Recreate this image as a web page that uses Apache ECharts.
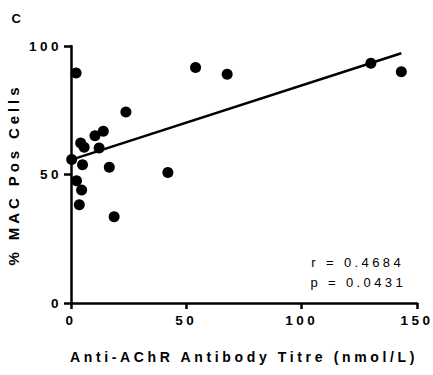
<!DOCTYPE html>
<html>
<head>
<meta charset="utf-8">
<script src="https://cdn.jsdelivr.net/npm/echarts@6/dist/echarts.min.js"></script>
<style>
  html, body { margin: 0; padding: 0; background: #fff; }
  #chart { width: 433px; height: 375px; }
  #chart text { letter-spacing: 0.26em; }
</style>
</head>
<body>
<div id="chart"></div>
<script>
// Data
var titreX = [2.2, 54, 67.7, 130, 143.2, 23.8, 14, 10.4, 4.2, 5.7, 12.2, 0.3, 5, 16.6, 42, 2.4, 4.6, 3.6, 18.7];
var macPosY = [89.5, 91.6, 89, 93.3, 90, 74.3, 66.8, 65.1, 62.3, 60.6, 60.3, 55.8, 53.8, 52.8, 50.8, 47.6, 44, 38.2, 33.6];
// Regression line end points
var fitX = [0.3, 143.2];
var fitY = [55.8, 97.2];
var xTicks = [0, 50, 100, 150];
var yTicks = [0, 50, 100];
var statsText = ['r = 0.4684', 'p = 0.0431'];
var panelLabel = 'C';
var xTitle = 'Anti-AChR Antibody Titre (nmol/L)';
var yTitle = '% MAC Pos Cells';

var points = titreX.map(function (x, i) { return [x, macPosY[i]]; });
var fitLine = fitX.map(function (x, i) { return [x, fitY[i]]; });

var chart = echarts.init(document.getElementById('chart'), null, { renderer: 'svg' });
var font = 'Liberation Sans, Arial, sans-serif';
chart.setOption({
  animation: false,
  backgroundColor: '#fff',
  grid: { left: 71, right: 16, top: 46, bottom: 72, containLabel: false, outerBoundsMode: 'none' },
  xAxis: {
    type: 'value', min: xTicks[0], max: xTicks[xTicks.length - 1], interval: 50,
    name: xTitle, nameLocation: 'middle', nameGap: 47,
    nameTextStyle: { fontFamily: font, fontWeight: 'bold', fontSize: 14, color: '#000' },
    axisLine: { show: true, lineStyle: { color: '#000', width: 2.5 } },
    axisTick: { show: true, length: 6, lineStyle: { color: '#000', width: 2.5 } },
    axisLabel: { fontFamily: font, fontWeight: 'bold', fontSize: 13.5, color: '#000', margin: 10 },
    splitLine: { show: false }
  },
  yAxis: {
    type: 'value', min: yTicks[0], max: yTicks[yTicks.length - 1], interval: 50,
    name: yTitle, nameLocation: 'middle', nameGap: 50, nameRotate: 90,
    nameTextStyle: { fontFamily: font, fontWeight: 'bold', fontSize: 15, color: '#000' },
    axisLine: { show: true, lineStyle: { color: '#000', width: 2.5 } },
    axisTick: { show: true, length: 7, lineStyle: { color: '#000', width: 2.5 } },
    axisLabel: { fontFamily: font, fontWeight: 'bold', fontSize: 13.5, color: '#000', margin: 9 },
    splitLine: { show: false }
  },
  series: [
    {
      type: 'line', data: fitLine, showSymbol: false, symbol: 'none',
      lineStyle: { color: '#000', width: 2.5, opacity: 1 }, z: 2, silent: true
    },
    {
      type: 'scatter', data: points, symbol: 'circle', symbolSize: 11,
      itemStyle: { color: '#000', opacity: 1 }, clip: false, z: 3
    }
  ],
  graphic: [
    { type: 'text', x: 18, y: 18, style: { text: panelLabel, font: 'bold 13px ' + font, fill: '#000', align: 'center', verticalAlign: 'middle' } },
    { type: 'text', x: 404, y: 262, style: { text: statsText[0], font: '13px ' + font, fill: '#000', align: 'right', verticalAlign: 'middle' } },
    { type: 'text', x: 406, y: 282, style: { text: statsText[1], font: '13px ' + font, fill: '#000', align: 'right', verticalAlign: 'middle' } }
  ]
});
</script>
</body>
</html>
